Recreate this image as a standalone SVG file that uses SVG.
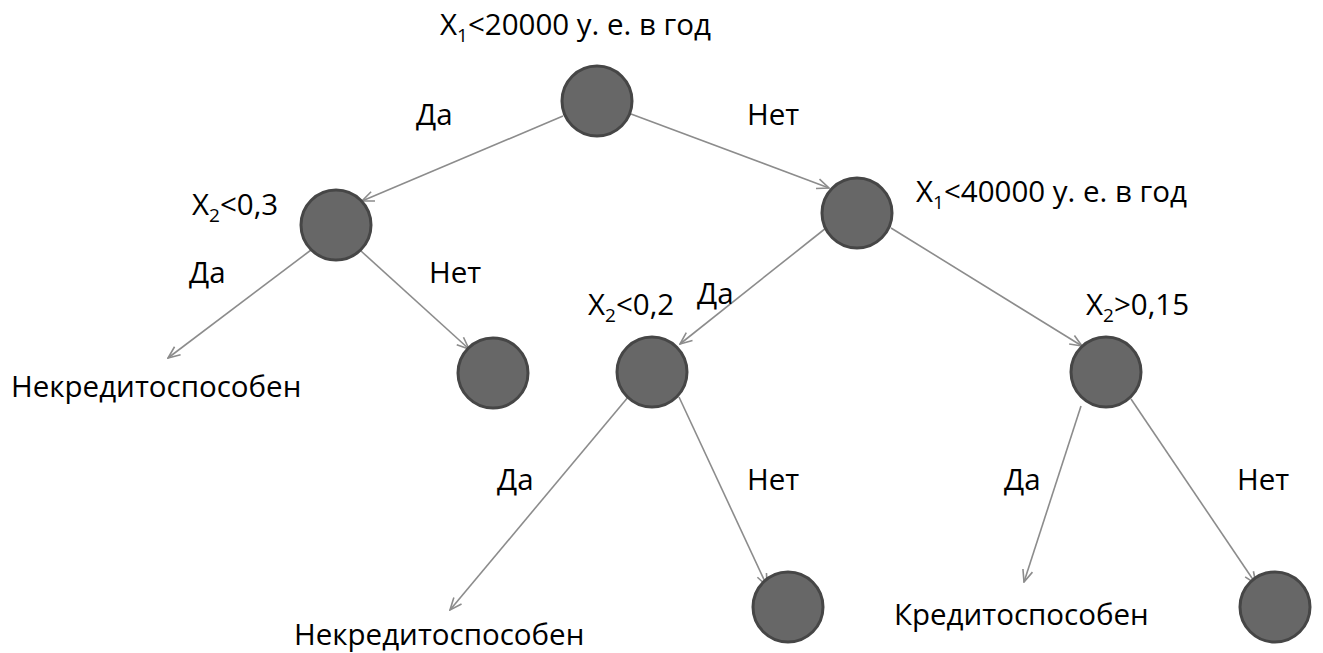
<svg xmlns="http://www.w3.org/2000/svg" width="1323" height="653" viewBox="0 0 1323 653">
<defs>
<style>
text{font-family:"Open Sans","Noto Sans","DejaVu Sans",sans-serif;font-size:29.5px;fill:#000}
.sub{font-size:19px}
.node{fill:#676767;stroke:#464646;stroke-width:3}
.edge{stroke:#8c8c8c;stroke-width:1.6;fill:none;marker-end:url(#arr)}
</style>
<marker id="arr" viewBox="0 0 14 12" refX="13" refY="6" markerWidth="14" markerHeight="12" markerUnits="userSpaceOnUse" orient="auto">
<path d="M1,1 L13,6 L1,11" fill="none" stroke="#8c8c8c" stroke-width="1.6"/>
</marker>
</defs>
<rect width="1323" height="653" fill="#fff"/>
<g id="connectors">
<line class="edge" x1="563" y1="116" x2="362" y2="201"/>
<line class="edge" x1="631" y1="114" x2="829" y2="188"/>
<line class="edge" x1="311" y1="250" x2="168" y2="358"/>
<line class="edge" x1="361" y1="251" x2="469" y2="349"/>
<line class="edge" x1="826" y1="228" x2="680" y2="344"/>
<line class="edge" x1="891" y1="228" x2="1082" y2="346"/>
<line class="edge" x1="629" y1="396" x2="450" y2="610"/>
<line class="edge" x1="679" y1="397" x2="767" y2="586"/>
<line class="edge" x1="1081" y1="406" x2="1024" y2="582"/>
<line class="edge" x1="1131" y1="399" x2="1256" y2="584"/>
<text x="416" y="125">Да</text>
<text x="747" y="125">Нет</text>
<text x="189" y="283">Да</text>
<text x="429" y="283">Нет</text>
<text x="697" y="304">Да</text>
<text x="497" y="490">Да</text>
<text x="747" y="490">Нет</text>
<text x="1004" y="490">Да</text>
<text x="1237" y="490">Нет</text>
</g>
<g id="n_root">
<circle class="node" cx="597" cy="101" r="35"/>
<text x="440" y="35">X<tspan class="sub" dy="7">1</tspan><tspan dy="-7">&lt;20000 у. е. в год</tspan></text>
</g>
<g id="n_x2_03">
<circle class="node" cx="336" cy="225" r="35"/>
<text x="192" y="215">X<tspan class="sub" dy="7">2</tspan><tspan dy="-7">&lt;0,3</tspan></text>
</g>
<g id="n_leaf_nekr1">
<text x="11" y="397">Некредитоспособен</text>
</g>
<g id="n_leaf1">
<circle class="node" cx="493" cy="373" r="35"/>
</g>
<g id="n_x1_40000">
<circle class="node" cx="857" cy="213" r="35"/>
<text x="916" y="202">X<tspan class="sub" dy="7">1</tspan><tspan dy="-7">&lt;40000 у. е. в год</tspan></text>
</g>
<g id="n_x2_02">
<circle class="node" cx="652" cy="372" r="35"/>
<text x="588" y="315">X<tspan class="sub" dy="7">2</tspan><tspan dy="-7">&lt;0,2</tspan></text>
</g>
<g id="n_x2_015">
<circle class="node" cx="1106" cy="372" r="35"/>
<text x="1086" y="315">X<tspan class="sub" dy="7">2</tspan><tspan dy="-7">&gt;0,15</tspan></text>
</g>
<g id="n_leaf_nekr2">
<text x="294" y="645">Некредитоспособен</text>
</g>
<g id="n_leaf2">
<circle class="node" cx="788" cy="607" r="35"/>
</g>
<g id="n_leaf_kred">
<text x="894" y="625">Кредитоспособен</text>
</g>
<g id="n_leaf3">
<circle class="node" cx="1275" cy="607" r="35"/>
</g>
</svg>
